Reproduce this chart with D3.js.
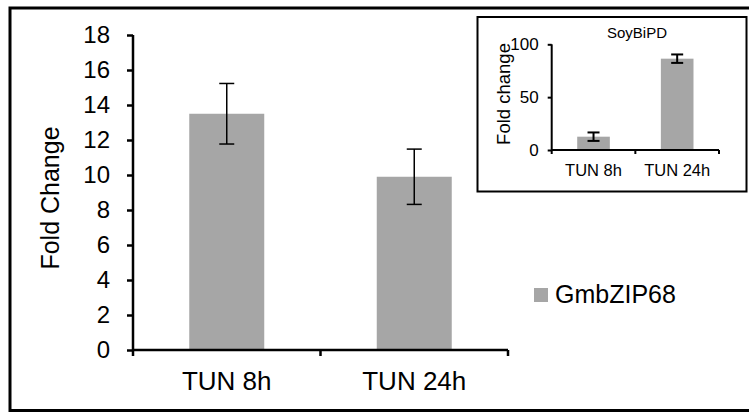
<!DOCTYPE html>
<html>
<head>
<meta charset="utf-8">
<script src="https://cdn.jsdelivr.net/npm/d3@7"></script>
<style>
    html, body { margin: 0; padding: 0; background: #fff; }
    svg { display: block; }
    text { font-family: "Liberation Sans", Arial, sans-serif; fill: #000; }
</style>
</head>
<body>
<div id="chart"></div>
<script>
const categories = ['TUN 8h', 'TUN 24h']
const foldChange = [13.5, 9.9]
const foldError = [1.73, 1.58]
const mainTicks = [0, 2, 4, 6, 8, 10, 12, 14, 16, 18]
const seriesName = 'GmbZIP68'

const insetTitle = 'SoyBiPD'
const insetCategories = ['TUN 8h', 'TUN 24h']
const insetFoldChange = [12.6, 86.4]
const insetError = [4, 4]
const insetTicks = [0, 50, 100]

const W = 749, H = 412
const barColor = '#a6a6a6'

const svg = d3.select('#chart').append('svg')
    .attr('width', W)
    .attr('height', H)

// outer frame (right edge runs off the picture)
svg.append('rect')
    .attr('x', 10).attr('y', 8)
    .attr('width', 745).attr('height', 402.5)
    .attr('fill', 'none')
    .attr('stroke', '#000')
    .attr('stroke-width', 3)

function drawBars(g, cfg) {
    const x = d3.scaleBand()
        .domain(cfg.cats)
        .range(cfg.xRange)
        .paddingInner(cfg.padIn)
        .paddingOuter(cfg.padOut)

    const y = d3.scaleLinear()
        .domain(cfg.yDomain)
        .range(cfg.yRange)

    const rows = cfg.cats.map((c, i) => ({ cat: c, v: cfg.values[i], e: cfg.errors[i] }))

    g.selectAll('rect.bar').data(rows)
        .enter().append('rect')
        .attr('class', 'bar')
        .attr('x', d => x(d.cat))
        .attr('y', d => y(d.v))
        .attr('width', x.bandwidth())
        .attr('height', d => y(0) - y(d.v))
        .attr('fill', barColor)

    // error bars
    const eb = g.selectAll('g.err').data(rows).enter().append('g')
        .attr('class', 'err')
        .attr('stroke', '#000')
        .attr('stroke-width', cfg.errWidth)
    const cx = d => x(d.cat) + x.bandwidth() / 2
    eb.append('line')
        .attr('x1', cx).attr('x2', cx)
        .attr('y1', d => y(d.v + d.e)).attr('y2', d => y(d.v - d.e))
    eb.append('line')
        .attr('x1', d => cx(d) - cfg.cap / 2).attr('x2', d => cx(d) + cfg.cap / 2)
        .attr('y1', d => y(d.v + d.e)).attr('y2', d => y(d.v + d.e))
    eb.append('line')
        .attr('x1', d => cx(d) - cfg.cap / 2).attr('x2', d => cx(d) + cfg.cap / 2)
        .attr('y1', d => y(d.v - d.e)).attr('y2', d => y(d.v - d.e))

    // y axis
    const yAxis = g.append('g')
        .attr('transform', `translate(${cfg.xRange[0]},0)`)
        .call(d3.axisLeft(y)
            .tickValues(cfg.ticks)
            .tickSize(cfg.tickLen)
            .tickPadding(cfg.tickPad)
            .tickSizeOuter(0))
    yAxis.select('.domain').remove()
    yAxis.selectAll('line').attr('stroke', '#000').attr('stroke-width', cfg.axisWidth)
    yAxis.selectAll('text')
        .attr('font-size', cfg.tickFont)
        .attr('font-family', '"Liberation Sans", Arial, sans-serif')
        .attr('fill', '#000')
    g.append('line')
        .attr('x1', cfg.xRange[0]).attr('x2', cfg.xRange[0])
        .attr('y1', y(cfg.yDomain[1])).attr('y2', y(0) + cfg.tickLen)
        .attr('stroke', '#000').attr('stroke-width', cfg.axisWidth)

    // x axis with ticks on category boundaries
    g.append('line')
        .attr('x1', cfg.xRange[0]).attr('x2', cfg.xRange[1])
        .attr('y1', y(0)).attr('y2', y(0))
        .attr('stroke', '#000').attr('stroke-width', cfg.axisWidth)
    const bounds = d3.range(cfg.cats.length + 1).map(i => cfg.xRange[0] + i * (cfg.xRange[1] - cfg.xRange[0]) / cfg.cats.length)
    g.selectAll('line.xtick').data(bounds.slice(1))
        .enter().append('line')
        .attr('class', 'xtick')
        .attr('x1', d => d).attr('x2', d => d)
        .attr('y1', y(0)).attr('y2', y(0) + cfg.tickLen)
        .attr('stroke', '#000').attr('stroke-width', cfg.axisWidth)

    g.selectAll('text.cat').data(cfg.cats)
        .enter().append('text')
        .attr('class', 'cat')
        .attr('x', d => x(d) + x.bandwidth() / 2)
        .attr('y', cfg.catY)
        .attr('text-anchor', 'middle')
        .attr('font-size', cfg.catFont)
        .text(d => d)

    g.append('text')
        .attr('transform', `translate(${cfg.titleX},${cfg.titleY}) rotate(-90)`)
        .attr('text-anchor', 'middle')
        .attr('font-size', cfg.titleFont)
        .text('Fold ' + cfg.titleWord)
}

drawBars(svg.append('g'), {
    cats: categories, values: foldChange, errors: foldError,
    xRange: [133, 508], padIn: 0.6, padOut: 0.3,
    yDomain: [0, 18], yRange: [350, 35], ticks: mainTicks,
    tickLen: 6, tickPad: 17, tickFont: 24, axisWidth: 2.5,
    errWidth: 1.5, cap: 15,
    catY: 390, catFont: 26,
    titleX: 59, titleY: 198, titleFont: 25, titleWord: 'Change'
})

// legend
const legend = svg.append('g')
legend.append('rect')
    .attr('x', 534).attr('y', 288)
    .attr('width', 14).attr('height', 14)
    .attr('fill', barColor)
legend.append('text')
    .attr('x', 555).attr('y', 303)
    .attr('font-size', 25)
    .text(seriesName)

// inset
const inset = svg.append('g')
inset.append('rect')
    .attr('x', 477.5).attr('y', 17)
    .attr('width', 269).attr('height', 174.5)
    .attr('fill', '#fff')
    .attr('stroke', '#000')
    .attr('stroke-width', 2)

drawBars(inset, {
    cats: insetCategories, values: insetFoldChange, errors: insetError,
    xRange: [551.7, 719], padIn: 0.61, padOut: 0.305,
    yDomain: [0, 100], yRange: [150, 44.3], ticks: insetTicks,
    tickLen: 4, tickPad: 9, tickFont: 17, axisWidth: 2,
    errWidth: 2, cap: 12,
    catY: 176, catFont: 16.5,
    titleX: 510, titleY: 94, titleFont: 18.5, titleWord: 'change'
})

inset.append('text')
    .attr('x', 637).attr('y', 37.5)
    .attr('text-anchor', 'middle')
    .attr('font-size', 15)
    .text(insetTitle)
</script>
</body>
</html>
